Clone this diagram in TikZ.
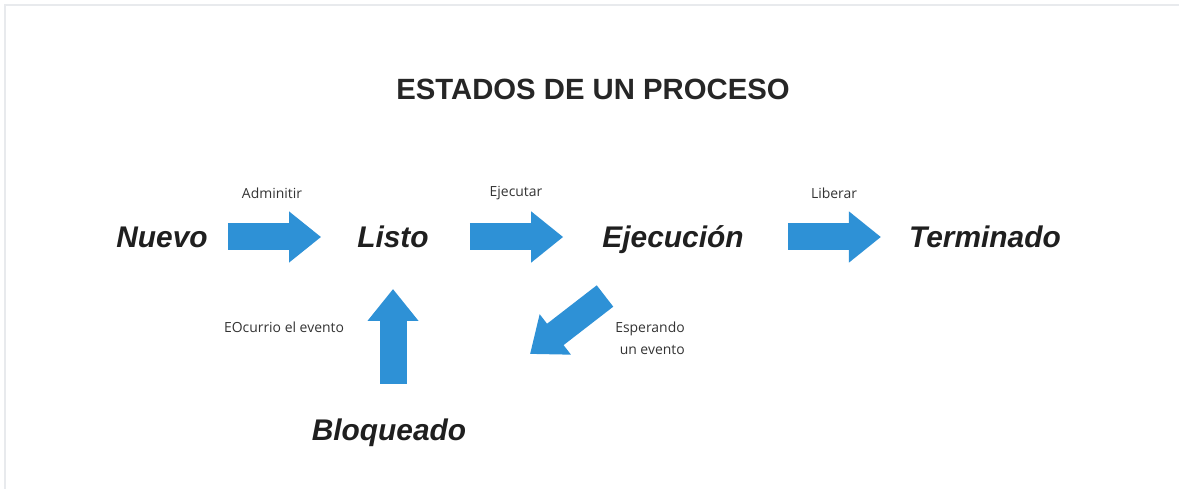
\documentclass[tikz,border=0pt]{standalone}
\usepackage{fontspec}
\setmainfont{Liberation Sans}
\newfontfamily\notefont{Open Sans}
\usetikzlibrary{arrows.meta,positioning}
\definecolor{azulflecha}{RGB}{46,145,214}
\definecolor{marco}{RGB}{232,234,237}

\begin{document}
\begin{tikzpicture}
    [ x = .03cm, y = -.03cm
    , state/.style =
      { font=\fontsize{25.5}{30}\selectfont\bfseries\itshape, text=black!88
      , inner sep=0pt, text height=.645cm, text depth=0pt }
    , heading/.style =
      { font=\fontsize{25}{30}\selectfont\bfseries, text=black!85, inner sep=0pt }
    , note/.style =
      { font=\notefont\fontsize{11.9}{18.6}\selectfont, text=black!80, inner sep=0pt }
    , flecha/.style =
      { line width=.81cm, azulflecha, -{Triangle[length=.96cm, width=1.47cm]} }
    ]
    \useasboundingbox (0,0) rectangle (1179,489);
    \draw [marco, line width=.06cm] (5,489) -- (5,5) -- (1179,5);

    \node [heading] (titulo) at (593,89) {ESTADOS DE UN PROCESO};

    \node [state] (nuevo) at (162,237) {Nuevo};
    \node [state] (listo) at (393,237) {Listo};
    \node [state] (ejecucion) at (673,237) {Ejecución};
    \node [state] (terminado) at (985,237) {Terminado};
    \node [state] (bloqueado) at (389,430) {Bloqueado};

    \coordinate (espera cola) at (605,296);
    \coordinate (espera punta) at (530,354);

    \draw [flecha, shorten <=.6cm, shorten >=1.08cm] (nuevo) -- (listo);
    \draw [flecha, shorten <=1.23cm, shorten >=1.17cm] (listo) -- (ejecucion);
    \draw [flecha, shorten <=1.32cm, shorten >=.84cm] (ejecucion) -- (terminado);
    \draw [flecha, shorten <=1.38cm, shorten >=1.23cm] (bloqueado -| listo) -- (listo);
    \draw [flecha] (espera cola) -- (espera punta);

    \node [note] (admitir) at (272,193) {Adminitir};
    \node [note] (ejecutar) at (516,193) {Ejecutar};
    \node [note] (liberar) at (834,193) {Liberar};
    \node [note] (ocurrio) at (284,327) {EOcurrio el evento};
    \node [note, align=right] (esperando) at (650,338) {Esperando\\un evento};
\end{tikzpicture}
\end{document}
